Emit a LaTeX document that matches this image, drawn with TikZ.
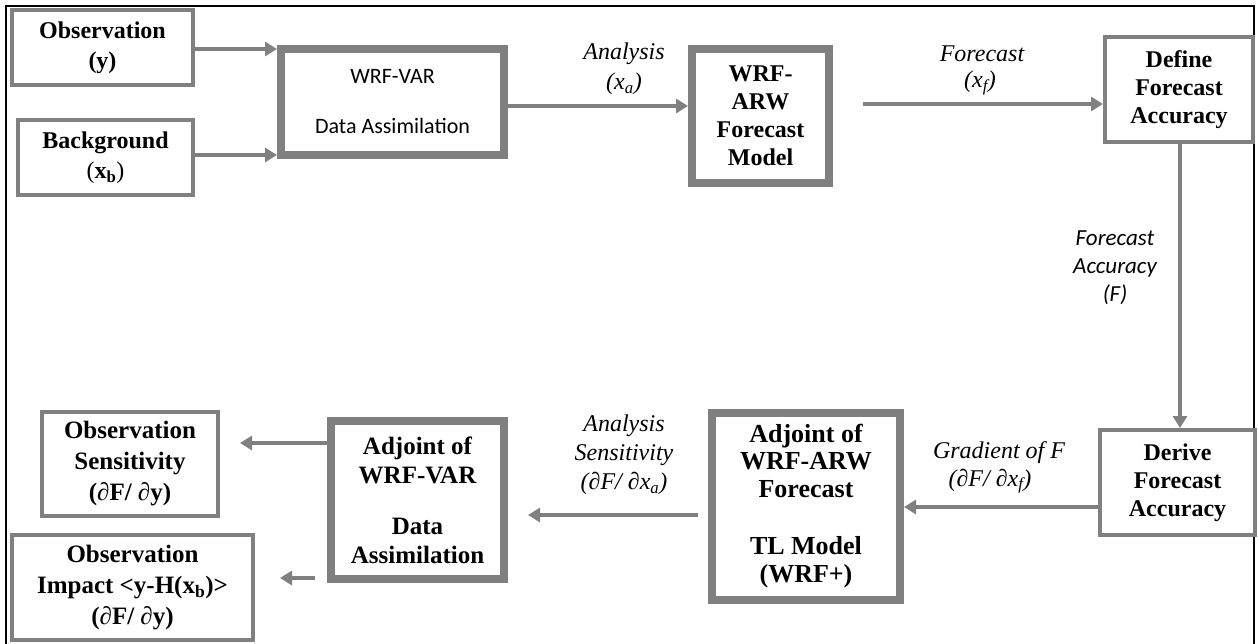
\documentclass[tikz,border=0pt]{standalone}
\usepackage{fontspec}
\setmainfont{Liberation Serif}
\newfontfamily\calibri{Carlito}
\usetikzlibrary{arrows.meta}
\definecolor{boxgray}{RGB}{128,128,128}
\begin{document}
\begin{tikzpicture}[x=1pt,y=-1pt,
  box/.style={draw=boxgray, line width=4pt, fill=white, align=center, inner sep=0pt,
    font=\fontsize{24}{28}\selectfont\bfseries},
  thickbox/.style={box, line width=8pt},
  arr/.style={draw=boxgray, line width=4.5pt, -{Triangle[length=12pt,width=14pt]}},
  lab/.style={align=center, inner sep=0pt, font=\fontsize{24}{29}\selectfont\itshape},
  clab/.style={align=center, inner sep=0pt, font=\calibri\fontsize{23}{28}\selectfont\itshape}]
\useasboundingbox (0,0) rectangle (1259,643);
\clip (0,0) rectangle (1259,643);
\draw[line width=2.5pt] (6,700) -- (6,6) -- (1254,6) -- (1254,700);

% boxes (centre, size = outer size minus line width)
\node[box, minimum width=181pt, minimum height=75pt] (obs) at (102.5,47.5)
  {Observation\\[2pt](y)};
\node[box, minimum width=175pt, minimum height=75pt] (bg) at (105.5,157.5)
  {Background\\[2pt]\textmd{(}x\textsubscript{b}\textmd{)}};
\node[thickbox, minimum width=223pt, minimum height=106pt, font=\calibri\fontsize{22}{26}\selectfont] (var) at (392.5,102)
  {WRF-VAR\\[24pt]Data Assimilation};
\node[thickbox, minimum width=137pt, minimum height=134pt] (arw) at (760.5,116)
  {WRF-\\ARW\\Forecast\\Model};
\node[box, minimum width=148pt, minimum height=105pt] (def) at (1179,89.5)
  {Define\\Forecast\\Accuracy};
\node[box, minimum width=155pt, minimum height=105pt] (der) at (1177.5,482.5)
  {Derive\\Forecast\\Accuracy};
\node[thickbox, minimum width=188pt, minimum height=187pt, font=\fontsize{26}{27.5}\selectfont\bfseries] (adjarw) at (806,506)
  {Adjoint of\\WRF-ARW\\Forecast\\[30pt]TL Model\\(WRF+)};
\node[thickbox, minimum width=173pt, minimum height=158pt, font=\fontsize{25}{29}\selectfont\bfseries] (adjvar) at (417.5,500)
  {Adjoint of\\WRF-VAR\\[22pt]Data\\Assimilation};
\node[box, minimum width=176pt, minimum height=104pt, font=\fontsize{25}{31}\selectfont\bfseries] (sens) at (130,464)
  {Observation\\Sensitivity\\(∂F/ ∂y)};
\node[box, minimum width=241pt, minimum height=105pt, font=\fontsize{25}{31}\selectfont\bfseries] (imp) at (132.5,587.5)
  {Observation\\Impact <y-H(x\textsubscript{b})>\\(∂F/ ∂y)};

% connectors
\draw[arr] (obs.east |- 0,49) -- (var.west |- 0,49);
\draw[arr] (bg.east |- 0,155) -- (var.west |- 0,155);
\draw[arr] (var.east |- 0,106) -- (arw.west |- 0,106);
\draw[arr, shorten <=30pt] (arw.east |- 0,104) -- (def.west |- 0,104);
\draw[arr] (def.south -| 1180,0) -- (der.north -| 1180,0);
\draw[arr] (der.west |- 0,507) -- (adjarw.east |- 0,507);
\draw[arr, shorten <=10pt, shorten >=20pt] (adjarw.west |- 0,515) -- (adjvar.east |- 0,515);
\draw[arr, shorten >=20pt] (adjvar.west |- 0,443) -- (sens.east |- 0,443);
\draw[arr, shorten <=12pt, shorten >=25pt] (adjvar.west |- 0,578) -- (imp.east |- 0,578);

% labels
\node[lab] (lana) at (624,54) {Analysis};
\node[lab] (lxa) at (624,84) {(x\textsubscript{a})};
\node[lab] (lfc) at (982,54) {Forecast};
\node[lab] (lxf) at (980,83) {(x\textsubscript{f})};
\node[clab] (lfa) at (1115,268) {Forecast\\Accuracy\\(F)};
\node[lab] (lgr) at (999,453) {Gradient of F};
\node[lab] (ldf) at (990,481) {(∂F/ ∂x\textsubscript{f})};
\node[lab] (las) at (624,455) {Analysis\\Sensitivity\\(∂F/ ∂x\textsubscript{a})};
\end{tikzpicture}
\end{document}
